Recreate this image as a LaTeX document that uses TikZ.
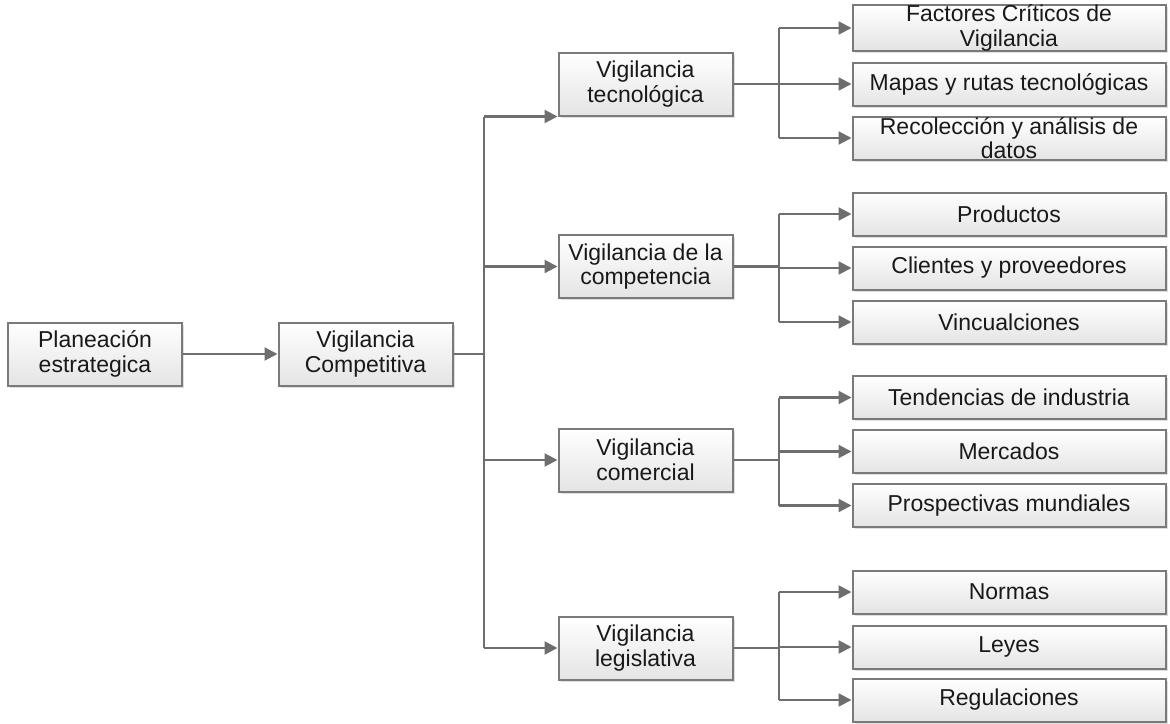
\documentclass[tikz,border=0pt]{standalone}
\usepackage{fontspec}
\setmainfont{Liberation Sans}
\usetikzlibrary{arrows.meta,shadows,calc}
\definecolor{linegray}{HTML}{6E6E6E}
\definecolor{boxedge}{HTML}{7A7A7A}
\definecolor{boxbot}{HTML}{E4E4E4}
\tikzset{
  box/.style={draw=boxedge, line width=2pt, top color=white, bottom color=boxbot,
    align=center, inner sep=0pt, text=black!90,
    font=\fontsize{23}{24.5}\selectfont,
    drop shadow={shadow xshift=2pt, shadow yshift=-2pt, fill=black!25, opacity=0.5}},
  midbox/.style={box, minimum width=174pt, minimum height=63pt},
  leafbox/.style={box, minimum width=313pt, minimum height=43pt},
  link/.style={draw=linegray, line width=2.2pt},
  arr/.style={link, -{Triangle[length=13pt,width=13pt]}},
}
\begin{document}
\begin{tikzpicture}[x=1pt,y=-1pt]
  \useasboundingbox (0,0) rectangle (1170,723);

  % main chain
  \node[midbox] (plan)  at (95,354)    {Planeación\\estrategica};
  \node[midbox] (comp)  at (365.5,354) {Vigilancia\\Competitiva};

  % second level
  \node[midbox] (tec)   at (645.5,84)    {Vigilancia\\tecnológica};
  \node[midbox] (compt) at (645.5,266.5) {Vigilancia de la\\competencia};
  \node[midbox] (comer) at (645.5,460)   {Vigilancia\\comercial};
  \node[midbox] (legis) at (645.5,648)   {Vigilancia\\legislativa};

  % leaves
  \node[leafbox] (t1) at (1009,28)  {Factores Críticos de\\Vigilancia};
  \node[leafbox] (t2) at (1009,84)  {Mapas y rutas tecnológicas};
  \node[leafbox] (t3) at (1009,138) {Recolección y análisis de\\datos};

  \node[leafbox] (c1) at (1009,214) {Productos};
  \node[leafbox] (c2) at (1009,268) {Clientes y proveedores};
  \node[leafbox] (c3) at (1009,322) {Vincualciones};

  \node[leafbox] (m1) at (1009,397.5) {Tendencias de industria};
  \node[leafbox] (m2) at (1009,451.5) {Mercados};
  \node[leafbox] (m3) at (1009,505.5) {Prospectivas mundiales};

  \node[leafbox] (l1) at (1009,592) {Normas};
  \node[leafbox] (l2) at (1009,647) {Leyes};
  \node[leafbox] (l3) at (1009,700) {Regulaciones};

  % connector columns
  \coordinate (trunk) at (484,0);
  \coordinate (bus)   at (779,0);

  \draw[arr] (plan.east) -- (comp.west);

  \draw[link] (comp.east) -- (trunk |- comp.east);
  \draw[link] (trunk |- tec.south west) -- (trunk |- legis.west);
  \draw[arr] (trunk |- tec.south west) -- (tec.south west);
  \foreach \n in {compt,comer,legis}
    \draw[arr] (trunk |- \n.west) -- (\n.west);

  % branches to the leaves
  \foreach \p/\a/\b/\c in {tec/t1/t2/t3, compt/c1/c2/c3, comer/m1/m2/m3, legis/l1/l2/l3}{
    \draw[link] (\p.east) -- (bus |- \p.east);
    \draw[link] (bus |- \a.west) -- (bus |- \c.west);
    \foreach \k in {\a,\b,\c}
      \draw[arr] (bus |- \k.west) -- (\k.west);
  }
\end{tikzpicture}
\end{document}
